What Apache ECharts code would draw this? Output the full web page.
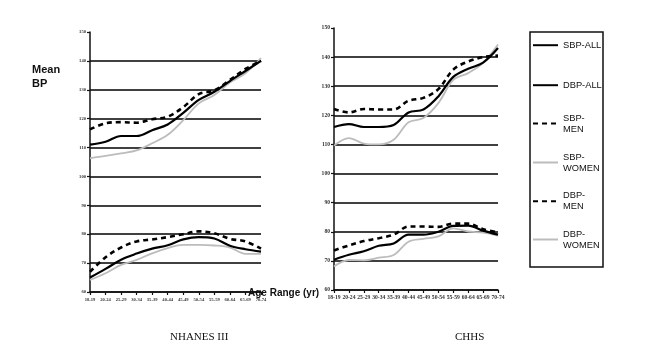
<!DOCTYPE html>
<html>
<head>
<meta charset="utf-8">
<script src="https://cdn.jsdelivr.net/npm/echarts@6/dist/echarts.min.js"></script>
<style>
  html, body { margin: 0; padding: 0; background: #fff; }
  #main { width: 651px; height: 350px; }
</style>
</head>
<body>
<div id="main"></div>
<script>
// age groups on the x axis
const ageGroups = ['18-19', '20-24', '25-29', '30-34', '35-39', '40-44', '45-49', '50-54', '55-59', '60-64', '65-69', '70-74']
const yMin = 60
const yMax = 150
const yStep = 10

// NHANES III (left panel)
const nhanesSbpAll = [111, 112, 114, 114, 116, 118, 122, 126.5, 129.3, 133, 136.5, 140]
const nhanesSbpMen = [116.3, 118.4, 118.8, 118.6, 119.8, 120.7, 124, 128.5, 129.8, 133.4, 137.2, 140]
const nhanesSbpWomen = [106.3, 107.1, 108, 109, 111.5, 114.4, 119.5, 125.3, 128.2, 132.5, 135.7, 141]
const nhanesDbpAll = [65, 68, 71.2, 73.3, 75, 76.2, 78.2, 79, 78.5, 76, 74.8, 74]
const nhanesDbpMen = [67, 72, 75.4, 77.5, 78.2, 79, 80, 81, 80.3, 78.4, 77.5, 75]
const nhanesDbpWomen = [64.2, 66.5, 69.4, 71.1, 73.4, 75.2, 76.3, 76.3, 76.1, 75.4, 73.2, 73.2]

// CHHS (right panel)
const chhsSbpAll = [116, 117, 116, 116, 116.7, 121, 122, 126.5, 133.2, 136, 138.1, 143.1]
const chhsSbpMen = [122.2, 121, 122.2, 122, 122, 125, 126, 129, 135.7, 138.5, 140, 140.5]
const chhsSbpWomen = [109.6, 112.2, 110.3, 110, 111.6, 117.6, 119.1, 124.2, 132.2, 134.5, 138, 144.3]
const chhsDbpAll = [70.4, 72.1, 73.3, 75.2, 76, 79, 79, 80, 82, 82.1, 80.4, 79]
const chhsDbpMen = [73.6, 75.3, 76.8, 77.8, 79, 81.8, 81.8, 81.7, 82.8, 82.8, 80.9, 79.8]
const chhsDbpWomen = [68.1, 70.3, 70.2, 71.1, 72, 76.6, 77.6, 78.4, 81.2, 80.1, 79.7, 78.7]

const chartDom = document.getElementById('main')
const myChart = echarts.init(chartDom, null, { renderer: 'canvas' })

// line looks
const styles = {
  'SBP-ALL': { color: '#000', width: 2.2, type: 'solid' },
  'DBP-ALL': { color: '#000', width: 2.2, type: 'solid' },
  'SBP-MEN': { color: '#000', width: 2.6, type: [5, 4] },
  'DBP-MEN': { color: '#000', width: 2.6, type: [5, 4] },
  'SBP-WOMEN': { color: '#bcbcbc', width: 1.8, type: 'solid' },
  'DBP-WOMEN': { color: '#bcbcbc', width: 1.8, type: 'solid' }
}

function makeSeries(name, data, idx) {
  const s = styles[name]
  return {
    name: name,
    type: 'line',
    xAxisIndex: idx,
    yAxisIndex: idx,
    data: data,
    smooth: 0.35,
    symbol: 'none',
    showSymbol: false,
    silent: true,
    z: s.color === '#000' ? 3 : 2,
    itemStyle: { color: s.color },
    lineStyle: { color: s.color, width: s.width, type: s.type }
  }
}

// no split line on the top tick (150)
const gridColors = ['#000', '#000', '#000', '#000', '#000', '#000', '#000', '#000', '#000', 'rgba(0,0,0,0)']

function makeX(idx, fontSize) {
  return {
    type: 'category',
    gridIndex: idx,
    data: ageGroups,
    boundaryGap: false,
    axisLine: { lineStyle: { color: '#111', width: 1.5 } },
    axisTick: { show: true, length: 3, lineStyle: { color: '#111', width: 1.2 } },
    axisLabel: {
      interval: 0,
      margin: 5,
      fontFamily: 'Liberation Serif',
      fontWeight: 'bold',
      fontSize: fontSize,
      color: '#333'
    },
    splitLine: { show: false }
  }
}

function makeY(idx, fontSize) {
  return {
    type: 'value',
    gridIndex: idx,
    min: yMin,
    max: yMax,
    interval: yStep,
    axisLine: { show: true, lineStyle: { color: '#111', width: 1.5 } },
    axisTick: { show: true, length: 3, lineStyle: { color: '#111', width: 1.2 } },
    axisLabel: {
      margin: 4,
      fontFamily: 'Liberation Serif',
      fontWeight: 'bold',
      fontSize: fontSize,
      color: '#333'
    },
    splitLine: { show: true, lineStyle: { color: gridColors, width: 1.6 } }
  }
}

const legendNames = ['SBP-ALL', 'DBP-ALL', 'SBP-MEN', 'SBP-WOMEN', 'DBP-MEN', 'DBP-WOMEN']
const legendRows = [45.7, 85.7, 124, 163, 201.7, 240]

const legends = legendNames.map((name, i) => {
  const twoLines = name.indexOf('ALL') < 0
  return {
    data: [name],
    orient: 'vertical',
    left: 532,
    top: twoLines ? legendRows[i] - 17 : legendRows[i] - 6,
    padding: 0,
    itemWidth: 25,
    itemHeight: 12,
    selectedMode: false,
    // only the line in the key, no marker
    itemStyle: { opacity: 0, borderWidth: 0 },
    formatter: n => twoLines ? n.replace('-', '-\n') : n,
    textStyle: {
      fontFamily: 'Liberation Sans',
      fontSize: 9.3,
      lineHeight: 11,
      color: '#111',
      padding: twoLines ? [11, 0, 0, 0] : 0
    }
  }
})

const option = {
  animation: false,
  backgroundColor: '#fff',
  grid: [
    { left: 90, right: 390, top: 32, bottom: 58 },
    { left: 334, right: 153, top: 28, bottom: 60 }
  ],
  xAxis: [makeX(0, 4.6), makeX(1, 5.6)],
  yAxis: [makeY(0, 4.6), makeY(1, 5.6)],
  legend: legends,
  series: [
    makeSeries('SBP-WOMEN', nhanesSbpWomen, 0),
    makeSeries('DBP-WOMEN', nhanesDbpWomen, 0),
    makeSeries('SBP-ALL', nhanesSbpAll, 0),
    makeSeries('DBP-ALL', nhanesDbpAll, 0),
    makeSeries('SBP-MEN', nhanesSbpMen, 0),
    makeSeries('DBP-MEN', nhanesDbpMen, 0),
    makeSeries('SBP-WOMEN', chhsSbpWomen, 1),
    makeSeries('DBP-WOMEN', chhsDbpWomen, 1),
    makeSeries('SBP-ALL', chhsSbpAll, 1),
    makeSeries('DBP-ALL', chhsDbpAll, 1),
    makeSeries('SBP-MEN', chhsSbpMen, 1),
    makeSeries('DBP-MEN', chhsDbpMen, 1)
  ],
  graphic: [
    // legend frame
    { type: 'rect', shape: { x: 530, y: 32, width: 73, height: 235 }, style: { fill: 'none', stroke: '#111', lineWidth: 1.5 } },
    { type: 'text', left: 32, top: 63, style: { text: 'Mean\nBP', font: 'bold 11px "Liberation Sans"', lineHeight: 14, fill: '#111' } },
    { type: 'text', left: 248, top: 288, style: { text: 'Age Range (yr)', font: 'bold 10px "Liberation Sans"', fill: '#111' } },
    { type: 'text', left: 170, top: 332, style: { text: 'NHANES III', font: '11px "Liberation Serif"', fill: '#111' } },
    { type: 'text', left: 455, top: 332, style: { text: 'CHHS', font: '11px "Liberation Serif"', fill: '#111' } }
  ]
}

option && myChart.setOption(option)
</script>
</body>
</html>
